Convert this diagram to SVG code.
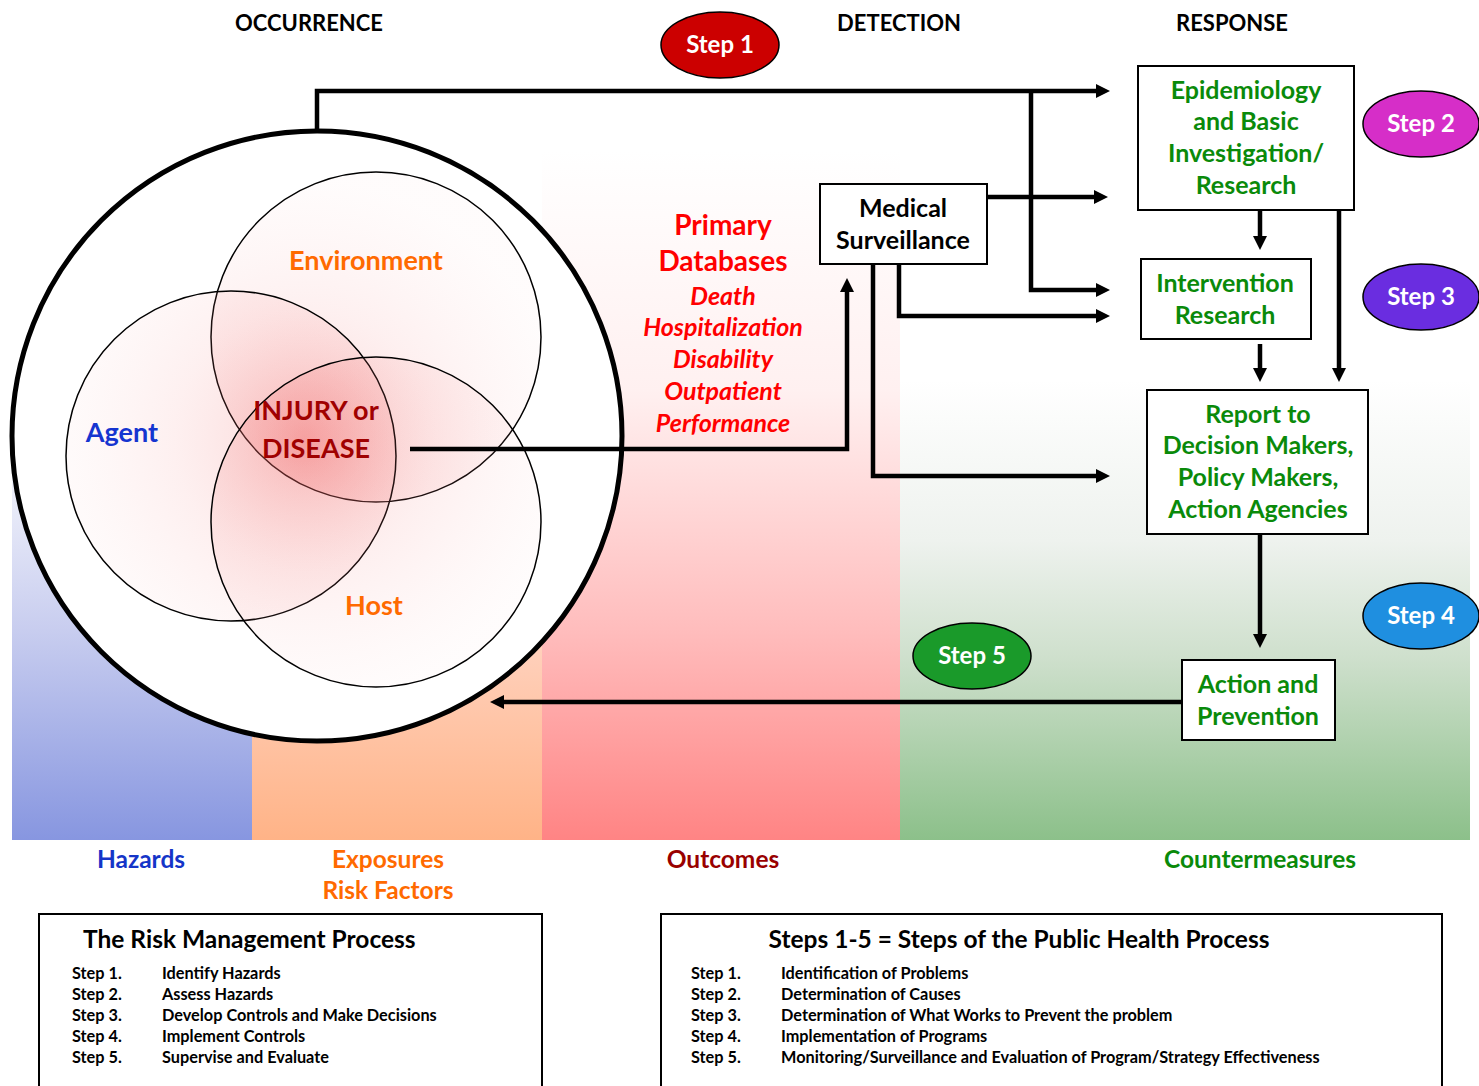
<svg xmlns="http://www.w3.org/2000/svg" width="1479" height="1086" viewBox="0 0 1479 1086">
<style>
text{font-family:Lato,"Open Sans","Liberation Sans",sans-serif;font-weight:bold;}
.hdr{font-size:22px;fill:#000;text-anchor:middle;}
.big{font-size:27px;text-anchor:middle;}
.box{fill:#fff;stroke:#000;stroke-width:2;}
.g{fill:#0a8a0a;font-size:25px;text-anchor:middle;}
.k{fill:#000;font-size:25px;text-anchor:middle;}
.red{fill:#ff0000;text-anchor:middle;}
.step{fill:#fff;font-size:24px;text-anchor:middle;}
.ell{stroke:#000;stroke-width:1.5;}
.con{fill:none;stroke:#000;stroke-width:4.5;}
.venn{stroke:#000;stroke-width:1.5;fill:url(#vg);}
.lbl{font-size:24.5px;text-anchor:middle;}
.li{font-size:16.3px;fill:#000;}
.ttl{font-size:24.5px;fill:#000;}
</style>
<defs>
<linearGradient id="gb" x1="0" y1="420" x2="0" y2="840" gradientUnits="userSpaceOnUse"><stop offset="0" stop-color="#ffffff"/><stop offset="0.5" stop-color="#c8cdef"/><stop offset="1" stop-color="#8796e0"/></linearGradient>
<linearGradient id="go" x1="0" y1="420" x2="0" y2="840" gradientUnits="userSpaceOnUse"><stop offset="0" stop-color="#ffffff"/><stop offset="0.5" stop-color="#ffd3c0"/><stop offset="1" stop-color="#ffb387"/></linearGradient>
<linearGradient id="gr" x1="0" y1="150" x2="0" y2="840" gradientUnits="userSpaceOnUse"><stop offset="0" stop-color="#ffffff"/><stop offset="0.35" stop-color="#fff0f0"/><stop offset="0.7" stop-color="#ffbcbc"/><stop offset="1" stop-color="#ff8484"/></linearGradient>
<linearGradient id="gg" x1="0" y1="380" x2="0" y2="840" gradientUnits="userSpaceOnUse"><stop offset="0" stop-color="#ffffff"/><stop offset="0.35" stop-color="#eef2ee"/><stop offset="0.6" stop-color="#cfe0cd"/><stop offset="1" stop-color="#8cc08a"/></linearGradient>
<radialGradient id="vg" cx="305" cy="440" r="260" gradientUnits="userSpaceOnUse"><stop offset="0" stop-color="#ee5555" stop-opacity="0.24"/><stop offset="0.5" stop-color="#f48080" stop-opacity="0.12"/><stop offset="1" stop-color="#f8b0b0" stop-opacity="0.04"/></radialGradient>
<marker id="ah" viewBox="0 0 14 14" markerWidth="14" markerHeight="14" refX="4" refY="7" orient="auto" markerUnits="userSpaceOnUse"><path d="M0,0 L14,7 L0,14 z" fill="#000"/></marker>
</defs>
<rect x="0" y="0" width="1479" height="1086" fill="#fff"/>
<g id="bands">
<rect x="12" y="150" width="240" height="690" fill="url(#gb)"/>
<rect x="252" y="150" width="290" height="690" fill="url(#go)"/>
<rect x="542" y="150" width="358" height="690" fill="url(#gr)"/>
<rect x="900" y="150" width="570" height="690" fill="url(#gg)"/>
</g>
<g id="headers">
<text class="hdr" x="309" y="31">OCCURRENCE</text>
<text class="hdr" x="899" y="31">DETECTION</text>
<text class="hdr" x="1232" y="31">RESPONSE</text>
</g>
<g id="occurrence">
<circle cx="317" cy="436" r="305" fill="#fff" stroke="#000" stroke-width="5"/>
<circle class="venn" cx="376" cy="337" r="165"/>
<circle class="venn" cx="231" cy="456" r="165"/>
<circle class="venn" cx="376" cy="522" r="165"/>
<text class="big" x="366" y="270" fill="#ff6a00">Environment</text>
<text class="big" x="122" y="442" fill="#1535d0">Agent</text>
<text class="big" x="316" y="420" fill="#a00000">INJURY or</text>
<text class="big" x="316" y="458" fill="#a00000">DISEASE</text>
<text class="big" x="374" y="615" fill="#ff6a00">Host</text>
</g>
<g id="primary-databases">
<text class="red" x="723" y="235" font-size="28">Primary</text>
<text class="red" x="723" y="271" font-size="28">Databases</text>
<text class="red" x="723" y="305" font-size="25" font-style="italic">Death</text>
<text class="red" x="723" y="336" font-size="25" font-style="italic">Hospitalization</text>
<text class="red" x="723" y="368" font-size="25" font-style="italic">Disability</text>
<text class="red" x="723" y="400" font-size="25" font-style="italic">Outpatient</text>
<text class="red" x="723" y="432" font-size="25" font-style="italic">Performance</text>
</g>
<g id="connectors">
<path class="con" d="M317,130 V91 H1100" marker-end="url(#ah)"/>
<path class="con" d="M1031,91 V290 H1100" marker-end="url(#ah)"/>
<path class="con" d="M987,197 H1098" marker-end="url(#ah)"/>
<path class="con" d="M899,264 V316 H1100" marker-end="url(#ah)"/>
<path class="con" d="M873,264 V476 H1100" marker-end="url(#ah)"/>
<path class="con" d="M410,449 H847 V288" marker-end="url(#ah)"/>
<path class="con" d="M1260,210 V240" marker-end="url(#ah)"/>
<path class="con" d="M1339,210 V372" marker-end="url(#ah)"/>
<path class="con" d="M1260,344 V372" marker-end="url(#ah)"/>
<path class="con" d="M1260,534 V638" marker-end="url(#ah)"/>
<path class="con" d="M1182,702 H500" marker-end="url(#ah)"/>
</g>
<g id="medical-surveillance">
<rect class="box" x="820" y="184" width="167" height="80"/>
<text class="k" x="903" y="217">Medical</text>
<text class="k" x="903" y="249">Surveillance</text>
</g>
<g id="epidemiology">
<rect class="box" x="1138" y="66" width="216" height="144"/>
<text class="g" x="1246" y="99">Epidemiology</text>
<text class="g" x="1246" y="130">and Basic</text>
<text class="g" x="1246" y="162">Investigation/</text>
<text class="g" x="1246" y="194">Research</text>
</g>
<g id="intervention-research">
<rect class="box" x="1141" y="259" width="170" height="80"/>
<text class="g" x="1225" y="292">Intervention</text>
<text class="g" x="1225" y="324">Research</text>
</g>
<g id="report">
<rect class="box" x="1147" y="390" width="221" height="144"/>
<text class="g" x="1258" y="423">Report to</text>
<text class="g" x="1258" y="454">Decision Makers,</text>
<text class="g" x="1258" y="486">Policy Makers,</text>
<text class="g" x="1258" y="518">Action Agencies</text>
</g>
<g id="action-prevention">
<rect class="box" x="1182" y="660" width="153" height="80"/>
<text class="g" x="1258" y="693">Action and</text>
<text class="g" x="1258" y="725">Prevention</text>
</g>
<g id="step1"><ellipse class="ell" cx="720" cy="45" rx="59" ry="33" fill="#cc0000"/><text class="step" x="720" y="53">Step 1</text></g>
<g id="step2"><ellipse class="ell" cx="1421" cy="124" rx="58" ry="33" fill="#d62ec8"/><text class="step" x="1421" y="132">Step 2</text></g>
<g id="step3"><ellipse class="ell" cx="1421" cy="297" rx="58" ry="33" fill="#6a2de0"/><text class="step" x="1421" y="305">Step 3</text></g>
<g id="step4"><ellipse class="ell" cx="1421" cy="616" rx="58" ry="33" fill="#1f8fe0"/><text class="step" x="1421" y="624">Step 4</text></g>
<g id="step5"><ellipse class="ell" cx="972" cy="656" rx="59" ry="33" fill="#1a9a2a"/><text class="step" x="972" y="664">Step 5</text></g>
<g id="band-labels">
<text class="lbl" x="141" y="868" fill="#1535c8">Hazards</text>
<text class="lbl" x="388" y="868" fill="#ff6a00">Exposures</text>
<text class="lbl" x="388" y="899" fill="#ff6a00">Risk Factors</text>
<text class="lbl" x="723" y="868" fill="#990000">Outcomes</text>
<text class="lbl" x="1260" y="868" fill="#0a8a0a">Countermeasures</text>
</g>
<g id="risk-management">
<rect x="39" y="914" width="503" height="180" fill="#fff" stroke="#000" stroke-width="2"/>
<text class="ttl" x="83" y="948">The Risk Management Process</text>
<text class="li" x="72" y="979">Step 1.</text><text class="li" x="162" y="979">Identify Hazards</text>
<text class="li" x="72" y="1000">Step 2.</text><text class="li" x="162" y="1000">Assess Hazards</text>
<text class="li" x="72" y="1021">Step 3.</text><text class="li" x="162" y="1021">Develop Controls and Make Decisions</text>
<text class="li" x="72" y="1042">Step 4.</text><text class="li" x="162" y="1042">Implement Controls</text>
<text class="li" x="72" y="1063">Step 5.</text><text class="li" x="162" y="1063">Supervise and Evaluate</text>
</g>
<g id="public-health">
<rect x="661" y="914" width="781" height="180" fill="#fff" stroke="#000" stroke-width="2"/>
<text class="ttl" x="1019" y="948" text-anchor="middle">Steps 1-5 = Steps of the Public Health Process</text>
<text class="li" x="691" y="979">Step 1.</text><text class="li" x="781" y="979">Identification of Problems</text>
<text class="li" x="691" y="1000">Step 2.</text><text class="li" x="781" y="1000">Determination of Causes</text>
<text class="li" x="691" y="1021">Step 3.</text><text class="li" x="781" y="1021">Determination of What Works to Prevent the problem</text>
<text class="li" x="691" y="1042">Step 4.</text><text class="li" x="781" y="1042">Implementation of Programs</text>
<text class="li" x="691" y="1063">Step 5.</text><text class="li" x="781" y="1063">Monitoring/Surveillance and Evaluation of Program/Strategy Effectiveness</text>
</g>
</svg>
